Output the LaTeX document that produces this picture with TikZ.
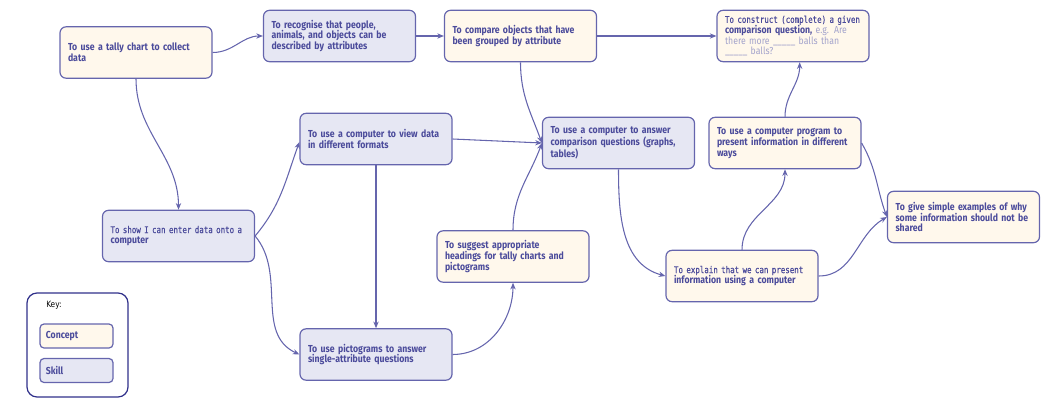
\documentclass[tikz,border=0pt]{standalone}
\usepackage{fontspec}
\setmainfont{Fira Sans}[FakeStretch=0.86]
\newfontfamily\altfont{DejaVu Sans Mono}[FakeStretch=0.8,FakeBold=0.6]
\newfontfamily\keyfont{DejaVu Sans}[FakeStretch=0.85]
\usetikzlibrary{arrows.meta}
\definecolor{ink}{HTML}{4B4B9B}
\definecolor{edge}{HTML}{6565AD}
\definecolor{keyedge}{HTML}{30308A}
\definecolor{cream}{HTML}{FFF8EC}
\definecolor{lav}{HTML}{E6E7F3}
\definecolor{greytxt}{HTML}{A3A3CC}
\begin{document}
\begin{tikzpicture}[x=0.75pt,y=-0.75pt,
  box/.style={draw=edge, line width=0.9pt, rounded corners=4.5pt,
    minimum width=114pt, minimum height=38.5pt, text width=102pt,
    align=left, inner sep=0pt, text=ink,
    font=\fontsize{7.6}{8}\selectfont\bfseries},
  concept/.style={box, fill=cream},
  skill/.style={box, fill=lav},
  keybox/.style={draw=edge, line width=0.9pt, rounded corners=3pt,
    minimum width=54.75pt, minimum height=18pt, text width=46pt,
    align=left, inner sep=0pt, text=ink,
    font=\fontsize{7.6}{8}\selectfont\bfseries},
  link/.style={draw=edge, line width=0.8pt, -{Stealth[length=5pt,width=4pt]}}]
\useasboundingbox (0,0) rectangle (1044,406);

% nodes
\node[concept] (tally)     at (136,52.5)   {To use a tally chart to collect\\data};
\node[skill]   (recog)     at (339.5,36)   {To recognise that people,\\animals, and objects can be\\described by attributes};
\node[concept] (compare)   at (520.5,36)   {To compare objects that have\\been grouped by attribute};
\node[concept] (construct) at (793,36)     {{\altfont\mdseries\fontsize{7}{8}\selectfont To construct (complete) a given}\\comparison question, {\mdseries\color{greytxt}e.g. Are}\\{\mdseries\color{greytxt}there more \_\_\_\_\_ balls than}\\{\mdseries\color{greytxt}\_\_\_\_\_ balls?}};
\node[skill]   (view)      at (376,139)    {To use a computer to view data\\in different formats};
\node[skill]   (answer)    at (618.5,143)  {To use a computer to answer\\comparison questions (graphs,\\tables)};
\node[concept] (program)   at (785,143)    {To use a computer program to\\present information in different\\ways};
\node[concept] (examples)  at (963.5,217)  {To give simple examples of why\\some information should not be\\shared};
\node[concept] (explain)   at (742,276)    {{\altfont\mdseries\fontsize{7}{8}\selectfont To explain that we can present}\\information using a computer};
\node[skill]   (show)      at (178.5,236)  {{\altfont\mdseries\fontsize{7}{8}\selectfont To show I can enter data onto a}\\computer};
\node[skill]   (pictos)    at (376,354.5)  {To use pictograms to answer\\single-attribute questions};
\node[concept] (suggest)   at (513,256.5)  {To suggest appropriate\\headings for tally charts and\\pictograms};

% key
\node[draw=keyedge, line width=0.9pt, rounded corners=7.5pt,
      minimum width=75.75pt, minimum height=78pt, inner sep=0pt] (key) at (77.5,345) {};
\node[anchor=west, inner sep=0pt, font=\keyfont\fontsize{6.5}{7}\selectfont] (keylabel) at (46,305) {Key:};
\node[keybox, fill=cream] (kconcept) at (76.5,336)   {Concept};
\node[keybox, fill=lav]   (kskill)   at (76.5,370.5) {Skill};

% connectors
\draw[link] (tally.east) to[out=0,in=180] (recog.west);
\draw[link] (recog.east) -- (compare.west);
\draw[link] (compare.east) -- (construct.west);
\draw[link] (tally.south) to[out=-90,in=90] (show.north);
\draw[link] (show.east) to[out=50,in=250] ([yshift=-2.25pt]view.west);
\draw[link] (show.east) to[out=-50,in=155] (pictos.west);
\draw[link] (view.south) -- (pictos.north);
\draw[link] (view.east) -- (answer.west);
\draw[link] (compare.south) to[out=-90,in=110] (answer.west);
\draw[link] (suggest.north) to[out=90,in=250] (answer.west);
\draw[link] (pictos.east) to[out=0,in=-90] (suggest.south);
\draw[link] (answer.south) to[out=-90,in=165] (explain.west);
\draw[link] (explain.north) to[out=90,in=-90] (program.south);
\draw[link] (program.north) to[out=90,in=-90] ([xshift=5pt]construct.south);
\draw[link] (program.east) to[out=-60,in=110] (examples.west);
\draw[link] (explain.east) to[out=0,in=210] (examples.west);
\end{tikzpicture}
\end{document}
